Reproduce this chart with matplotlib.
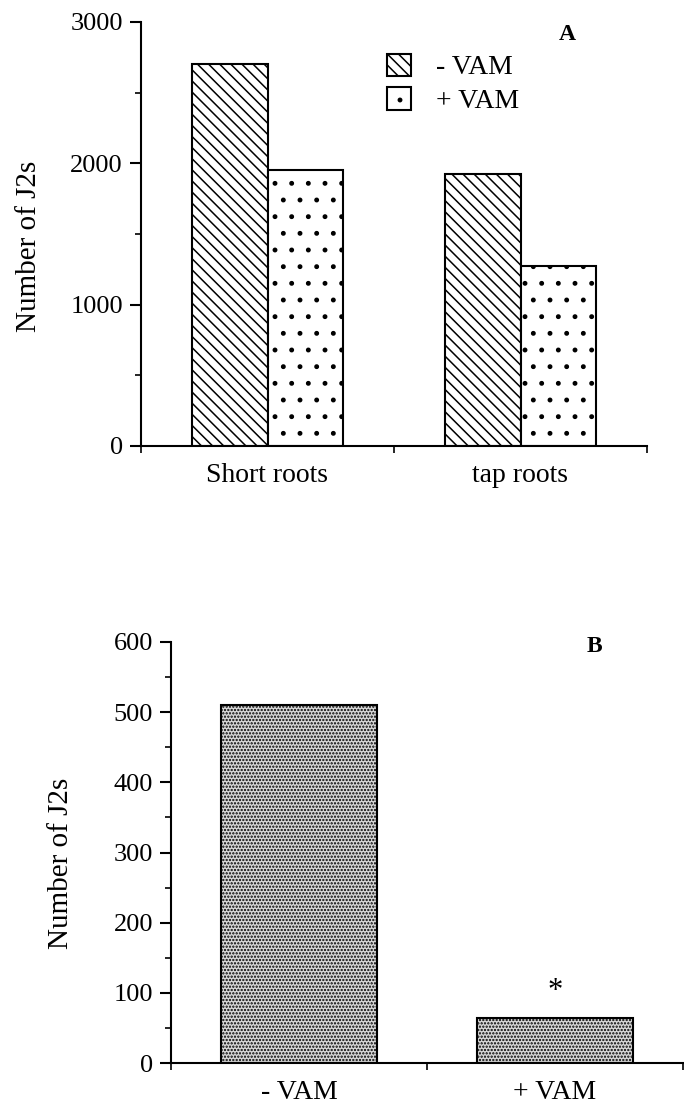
import matplotlib
matplotlib.use("Agg")
import matplotlib.pyplot as plt
from matplotlib.patches import Patch
from matplotlib.ticker import MultipleLocator, FixedLocator

# ---- data ----
categories_A = ["Short roots", "tap roots"]
minus_vam_A = [2700, 1925]
plus_vam_A = [1950, 1275]
legend_labels_A = ["- VAM", "+ VAM"]

categories_B = ["- VAM", "+ VAM"]
values_B = [510, 64]
signif_B = ["", "*"]

plt.rcParams['font.family'] = ['Liberation Serif', 'DejaVu Serif']
plt.rcParams['hatch.linewidth'] = 1.1

fig = plt.figure(figsize=(6.84, 11.11), dpi=100)

LW = 1.5

def style_axes(ax):
    for s in ['top', 'right']:
        ax.spines[s].set_visible(False)
    for s in ['left', 'bottom']:
        ax.spines[s].set_linewidth(LW)
    ax.tick_params(axis='y', which='major', direction='out', length=8, width=LW, pad=5)
    ax.tick_params(axis='y', which='minor', direction='out', length=4.5, width=1.2)
    ax.xaxis.set_major_locator(FixedLocator([0, 1, 2]))
    ax.xaxis.set_minor_locator(FixedLocator([0.5, 1.5]))
    ax.tick_params(axis='x', which='major', direction='out', length=5, width=1.2,
                   labelbottom=False)
    ax.tick_params(axis='x', which='minor', length=0, pad=12)
    ax.set_xlim(0, 2)

# ---- Panel A ----
axA = fig.add_axes([141/684, 1-446/1111, (647-141)/684, (446-22)/1111])
w = 0.30
xs = [0.5, 1.5]
axA.bar([x - w/2 for x in xs], minus_vam_A, width=w, facecolor='white',
        edgecolor='black', linewidth=LW, hatch='\\\\\\', label=legend_labels_A[0])
axA.bar([x + w/2 for x in xs], plus_vam_A, width=w, facecolor='white',
        edgecolor='black', linewidth=LW, hatch='.', label=legend_labels_A[1])
style_axes(axA)
axA.set_ylim(0, 3000)
axA.yaxis.set_major_locator(MultipleLocator(1000))
axA.yaxis.set_minor_locator(MultipleLocator(500))
axA.set_xticklabels(categories_A, minor=True, fontsize=20)
for lbl in axA.get_yticklabels():
    lbl.set_fontsize(19)
axA.set_ylabel("Number of J2s", fontsize=21)
axA.yaxis.set_label_coords(-0.195, 0.47)
axA.text(0.842, 0.97, "A", transform=axA.transAxes, fontsize=17,
         fontweight='bold', ha='center', va='center')
handles = [Patch(facecolor='white', edgecolor='black', linewidth=LW, hatch='\\\\\\'),
           Patch(facecolor='white', edgecolor='black', linewidth=LW, hatch='.')]
axA.legend(handles, legend_labels_A, loc='upper left',
           bbox_to_anchor=(0.486, 0.925), frameon=False, fontsize=20,
           handlelength=0.85, handleheight=0.85, handletextpad=0.9,
           labelspacing=0.25, borderpad=0, borderaxespad=0)

# ---- Panel B ----
axB = fig.add_axes([171/684, 1-1063/1111, (683-171)/684, (1063-642)/1111])
wB = 0.61
axB.bar(xs, values_B, width=wB, facecolor='#d8d8d8', edgecolor='black',
        linewidth=LW, hatch='.....')
style_axes(axB)
axB.set_ylim(0, 600)
axB.yaxis.set_major_locator(MultipleLocator(100))
axB.yaxis.set_minor_locator(MultipleLocator(50))
axB.set_xticklabels(categories_B, minor=True, fontsize=20)
for lbl in axB.get_yticklabels():
    lbl.set_fontsize(19)
axB.set_ylabel("Number of J2s", fontsize=21)
axB.yaxis.set_label_coords(-0.19, 0.475)
for x, v, s in zip(xs, values_B, signif_B):
    if s:
        axB.text(x, v + 38, s, fontsize=22, ha='center', va='center')
axB.text(0.827, 0.99, "B", transform=axB.transAxes, fontsize=17,
         fontweight='bold', ha='center', va='center')

fig.savefig("out.png", dpi=100)
